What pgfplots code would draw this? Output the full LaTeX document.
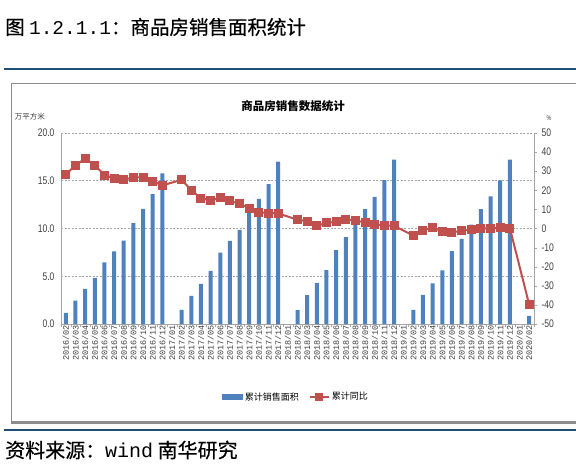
\documentclass[border=0pt]{standalone}
\usepackage{pgfplots}
\pgfplotsset{compat=1.18}
\usepackage{fontspec}
\setmainfont{Liberation Sans}
\newfontfamily\cjk{Noto Sans CJK SC}
\newfontfamily\cjkh[FakeBold=0.5]{Noto Sans CJK SC}
\newfontfamily\narrow[FakeStretch=0.78]{Liberation Sans}
\newfontfamily\mono{Liberation Mono}
\definecolor{barblue}{HTML}{4F81BD}
\definecolor{linered}{HTML}{C0504D}
\definecolor{rulecol}{HTML}{1F4E79}
\definecolor{framegray}{HTML}{8C8C8C}
\definecolor{txt}{HTML}{404040}
\begin{document}
\begin{tikzpicture}[x=1pt,y=1pt]
\useasboundingbox (0,0) rectangle (576,-473);
% header and footer
\node[anchor=west,inner sep=0,font=\fontsize{19.5}{19.5}\selectfont\cjkh] at (5,-27) {图 {\mono 1.2.1.1}：商品房销售面积统计};
\draw[rulecol, line width=1.6pt] (4,-69) -- (576,-69);
\draw[framegray, line width=1pt] (11.5,-422) -- (11.5,-83.5) -- (576,-83.5);
\draw[framegray, line width=3pt] (11,-422.5) -- (576,-422.5);
\draw[rulecol, line width=2.2pt] (4,-430) -- (576,-430);
\node[anchor=west,inner sep=0,font=\fontsize{20}{20}\selectfont\cjkh] at (5,-450) {资料来源：{\mono wind} 南华研究};
% chart texts
\node[font=\fontsize{11.5}{12}\selectfont\cjk\bfseries] at (293,-106) {商品房销售数据统计};
\node[font=\fontsize{7.5}{8}\selectfont\cjk, text=txt] at (30,-117) {万平方米};
\node[font=\fontsize{7}{8}\selectfont\narrow, text=txt] at (549,-118) {\%};

\begin{axis}[
  at={(61pt,-324pt)}, anchor=south west,
  width=473pt, height=191pt, scale only axis,
  xmin=-0.5, xmax=48.5, ymin=0, ymax=20,
  ytick={0,5,...,20},
  axis x line*=bottom, axis y line*=left,
  axis line style={draw=gray!70, line width=0.8pt, -},
  ymajorgrids, grid style={dash pattern=on 2pt off 1.5pt, gray!70, line width=0.6pt},
  xtick={0,...,48},
  xticklabels={2016/02,2016/03,2016/04,2016/05,2016/06,2016/07,2016/08,2016/09,2016/10,2016/11,2016/12,2017/01,2017/02,2017/03,2017/04,2017/05,2017/06,2017/07,2017/08,2017/09,2017/10,2017/11,2017/12,2018/01,2018/02,2018/03,2018/04,2018/05,2018/06,2018/07,2018/08,2018/09,2018/10,2018/11,2018/12,2019/01,2019/02,2019/03,2019/04,2019/05,2019/06,2019/07,2019/08,2019/09,2019/10,2019/11,2019/12,2020/01,2020/02},
  xticklabel style={rotate=90, anchor=east, font=\fontsize{8.5}{9}\selectfont\mono, text=txt, inner sep=1pt},
  major x tick style={draw=none},
  minor xtick={-0.5,0.5,...,48.5},
  minor x tick style={draw=gray!70},
  tick align=outside, minor tick length=3pt, major tick length=0pt,
  yticklabel style={font=\fontsize{11}{11}\selectfont\narrow, text=txt, xshift=-3pt},
  /pgf/number format/assume math mode=true,
  yticklabel={\pgfmathprintnumber[fixed,fixed zerofill,precision=1]{\tick}},
  clip=false,
]
\addplot[ybar, bar width=4pt, fill=barblue, draw=none] coordinates {
(0,1.17) (1,2.44) (2,3.68) (3,4.82) (4,6.46) (5,7.60) (6,8.72) (7,10.55) (8,12.05) (9,13.60) (10,15.77)
(12,1.47) (13,2.95) (14,4.21) (15,5.55) (16,7.48) (17,8.71) (18,9.86) (19,11.74) (20,13.10) (21,14.64) (22,17.00)
(24,1.46) (25,3.03) (26,4.28) (27,5.64) (28,7.73) (29,9.09) (30,10.45) (31,12.02) (32,13.31) (33,15.06) (34,17.22)
(36,1.48) (37,3.05) (38,4.26) (39,5.62) (40,7.62) (41,8.91) (42,10.40) (43,12.02) (44,13.37) (45,15.03) (46,17.20)
(48,0.85)
};
\end{axis}

\begin{axis}[
  at={(61pt,-324pt)}, anchor=south west,
  width=473pt, height=191pt, scale only axis,
  xmin=-0.5, xmax=48.5, ymin=-50, ymax=50,
  ytick={-50,-40,...,50},
  axis y line*=right, axis x line=none,
  axis line style={draw=gray!70, line width=0.8pt, -},
  tick align=outside, major tick length=3pt,
  major tick style={draw=gray!70},
  yticklabel style={font=\fontsize{11}{11}\selectfont\narrow, text=txt, xshift=1pt},
  /pgf/number format/assume math mode=true,
  clip=false,
  legend style={at={(0.497,-0.382)}, anchor=center, draw=none, fill=none,
    legend columns=2, font=\fontsize{9}{9}\selectfont\cjk,
    /tikz/every even column/.append style={column sep=8pt},
    inner sep=1pt},
  legend cell align=left,
]
\addlegendimage{legend image code/.code={\fill[barblue] (0pt,-2.5pt) rectangle (20pt,2.5pt);}}
\addlegendentry{累计销售面积}
\addplot[linered, line width=2pt, mark=square*, mark size=3.5pt,
  legend image code/.code={\draw[linered, line width=2pt] (0pt,0pt) -- (19pt,0pt); \fill[linered] (6.5pt,-3pt) rectangle (12.5pt,3pt);}] coordinates {
(0,28.3) (1,33.1) (2,36.6) (3,33.2) (4,27.9) (5,26.3) (6,25.5) (7,26.8) (8,26.8) (9,24.6) (10,22.6)
(12,25.5) (13,20.0) (14,15.9) (15,14.7) (16,16.2) (17,14.4) (18,13.0) (19,10.6) (20,8.4) (21,8.1) (22,7.9)
(24,4.6) (25,3.8) (26,1.4) (27,2.9) (28,3.6) (29,4.7) (30,4.4) (31,3.0) (32,2.3) (33,1.5) (34,1.4)
(36,-3.7) (37,-0.9) (38,0.5) (39,-1.5) (40,-1.9) (41,-1.3) (42,-0.5) (43,0.0) (44,0.2) (45,0.3) (46,0.2)
(48,-39.8)
};
\addlegendentry{累计同比}
\end{axis}
\end{tikzpicture}
\end{document}
